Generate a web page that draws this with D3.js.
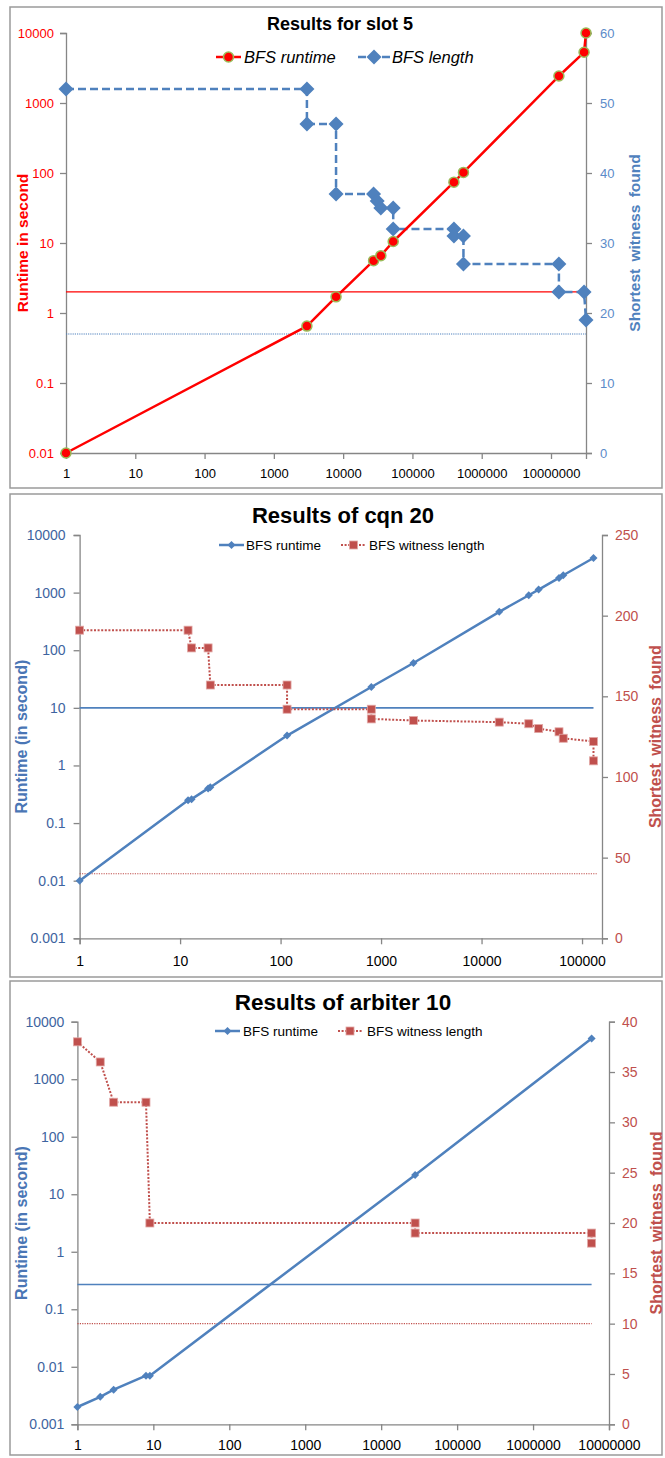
<!DOCTYPE html>
<html>
<head>
<meta charset="utf-8">
<script src="https://cdn.jsdelivr.net/npm/d3@7"></script>
<style>
  html, body { margin: 0; padding: 0; background: #fff; }
  svg { display: block; font-family: "Liberation Sans", Arial, sans-serif; }
</style>
</head>
<body>
<svg id="chart" width="665" height="1458"></svg>
<script>
// ---------- DATA ----------
// Panel 1: Results for slot 5
const slotRuntimeX = [1, 3000, 7900, 27500, 35000, 52800, 397000, 545000, 13000000, 30000000, 32000000];
const slotRuntimeY = [0.01, 0.65, 1.7, 5.6, 6.6, 10.5, 74, 102, 2430, 5300, 10000];
const slotLengthX = [1, 3000, 3000, 7900, 7900, 27500, 31000, 35000, 52800, 52800, 397000, 397000, 545000, 545000, 13000000, 13000000, 30000000, 32000000];
const slotLengthY = [52, 52, 47, 47, 37, 37, 36, 35, 35, 32, 32, 31, 31, 27, 27, 23, 23, 19];
const slotRuntimeRef = [2];
const slotLengthRef = [17];

// Panel 2: Results of cqn 20
const cqnRuntimeX = [1, 12, 13, 19, 20, 116, 800, 2100, 15000, 29500, 37000, 59000, 65000, 130000];
const cqnRuntimeY = [0.01, 0.25, 0.26, 0.4, 0.42, 3.3, 23, 60, 464, 900, 1130, 1800, 2000, 3990];
const cqnLengthX = [1, 12, 13, 19, 20, 116, 116, 800, 800, 2100, 15000, 29500, 37000, 59000, 65000, 130000, 130000];
const cqnLengthY = [191, 191, 180, 180, 157, 157, 142, 142, 136, 135, 134, 133, 130, 128, 124, 122, 110];
const cqnRuntimeRef = [10];
const cqnLengthRef = [40];

// Panel 3: Results of arbiter 10
const arbRuntimeX = [1, 2, 3, 8, 9, 28000, 5900000];
const arbRuntimeY = [0.002, 0.003, 0.004, 0.007, 0.007, 21.6, 5100];
const arbLengthX = [1, 2, 3, 8, 9, 28000, 28000, 5900000, 5900000];
const arbLengthY = [38, 36, 32, 32, 20, 20, 19, 19, 18];
const arbRuntimeRef = [0.27];
const arbLengthRef = [10];

// Tick values
const slotXTicks = [1, 10, 100, 1000, 10000, 100000, 1000000, 10000000];
const slotLeftTicks = [0.01, 0.1, 1, 10, 100, 1000, 10000];
const slotRightTicks = [0, 10, 20, 30, 40, 50, 60];
const cqnXTicks = [1, 10, 100, 1000, 10000, 100000];
const cqnLeftTicks = [0.001, 0.01, 0.1, 1, 10, 100, 1000, 10000];
const cqnRightTicks = [0, 50, 100, 150, 200, 250];
const arbXTicks = [1, 10, 100, 1000, 10000, 100000, 1000000, 10000000];
const arbLeftTicks = [0.001, 0.01, 0.1, 1, 10, 100, 1000, 10000];
const arbRightTicks = [0, 5, 10, 15, 20, 25, 30, 35, 40];

// ---------- DRAWING ----------
const svg = d3.select("#chart");
const AXIS = "#868686";

function diamondPath(r) { return `M0,${-r}L${r},0L0,${r}L${-r},0Z`; }

function drawPanel(c) {
  const g = svg.append("g");
  g.append("rect").attr("x", 10).attr("y", c.frame[0]).attr("width", 652).attr("height", c.frame[1] - c.frame[0])
    .attr("fill", "#fff").attr("stroke", "#9a9a9a").attr("stroke-width", 1.5);

  const x = d3.scaleLog().domain(c.xDomain).range([c.left, c.right]);
  const yL = d3.scaleLog().domain(c.yLDomain).range([c.bottom, c.top]);
  const yR = d3.scaleLinear().domain(c.yRDomain).range([c.bottom, c.top]);
  const fmt = d => String(d);

  const xAxis = d3.axisBottom(x).tickValues(c.xTicks).tickFormat(fmt).tickSize(6).tickPadding(c.xPad);
  const lAxis = d3.axisLeft(yL).tickValues(c.leftTicks).tickFormat(fmt).tickSize(6).tickPadding(c.lPad);
  const rAxis = d3.axisRight(yR).tickValues(c.rightTicks).tickFormat(fmt).tickSize(6).tickPadding(c.rPad);

  const gx = g.append("g").attr("transform", `translate(0,${c.bottom})`).call(xAxis);
  const gl = g.append("g").attr("transform", `translate(${c.left},0)`).call(lAxis);
  const gr = g.append("g").attr("transform", `translate(${c.right},0)`).call(rAxis);
  [gx, gl, gr].forEach(a => {
    a.select(".domain").attr("stroke", AXIS).attr("stroke-width", 1.3);
    a.selectAll(".tick line").attr("stroke", AXIS).attr("stroke-width", 1.3);
    a.selectAll("text").attr("font-family", '"Liberation Sans", Arial, sans-serif');
  });
  gx.selectAll("text").attr("fill", "#000").attr("font-size", c.tickSize);
  gl.selectAll("text").attr("fill", c.leftColor).attr("font-size", c.tickSize);
  gr.selectAll("text").attr("fill", c.rightColor).attr("font-size", c.tickSize);

  c.runtimeRef.forEach(v => {
    g.append("line").attr("x1", x(c.xDomain[0])).attr("x2", x(c.refEndX))
      .attr("y1", yL(v)).attr("y2", yL(v))
      .attr("stroke", c.runColor).attr("stroke-width", c.refRunWidth);
  });
  c.lengthRef.forEach(v => {
    g.append("line").attr("x1", x(c.xDomain[0])).attr("x2", x(c.refEndX2))
      .attr("y1", yR(v)).attr("y2", yR(v))
      .attr("stroke", c.lenColor).attr("stroke-width", c.refLenWidth).attr("stroke-dasharray", c.refLenDash);
  });

  const runData = c.runX.map((v, i) => [v, c.runY[i]]);
  const lenData = c.lenX.map((v, i) => [v, c.lenY[i]]);

  const runLine = d3.line().x(d => x(d[0])).y(d => yL(d[1]));
  const lenLine = d3.line().x(d => x(d[0])).y(d => yR(d[1]));

  function drawLen() {
    g.append("path").datum(lenData).attr("d", lenLine).attr("fill", "none")
      .attr("stroke", c.lenColor).attr("stroke-width", c.lenWidth).attr("stroke-dasharray", c.lenDash);
    if (c.lenMarker === "diamond") {
      g.selectAll(null).data(lenData).enter().append("path")
        .attr("transform", d => `translate(${x(d[0])},${yR(d[1])})`)
        .attr("d", diamondPath(c.lenMarkerSize)).attr("fill", c.lenColor);
    } else {
      const s = c.lenMarkerSize;
      g.selectAll(null).data(lenData).enter().append("rect")
        .attr("x", d => x(d[0]) - s / 2).attr("y", d => yR(d[1]) - s / 2)
        .attr("width", s).attr("height", s)
        .attr("fill", c.lenColor).attr("stroke", "#e2a8a6").attr("stroke-width", 0.8);
    }
  }
  function drawRun() {
    g.append("path").datum(runData).attr("d", runLine).attr("fill", "none")
      .attr("stroke", c.runColor).attr("stroke-width", c.runWidth).attr("stroke-linejoin", "round");
    if (c.runMarker === "circle") {
      g.selectAll(null).data(runData).enter().append("circle")
        .attr("cx", d => x(d[0])).attr("cy", d => yL(d[1])).attr("r", 5)
        .attr("fill", c.runColor).attr("stroke", "#9BBB59").attr("stroke-width", 1.5);
    } else {
      g.selectAll(null).data(runData).enter().append("path")
        .attr("transform", d => `translate(${x(d[0])},${yL(d[1])})`)
        .attr("d", diamondPath(c.runMarkerSize)).attr("fill", c.runColor);
    }
  }
  if (c.lenFirst) { drawLen(); drawRun(); } else { drawRun(); drawLen(); }

  g.append("text").attr("x", c.titleX).attr("y", c.titleY).attr("text-anchor", "middle")
    .attr("dominant-baseline", "central").attr("font-weight", "bold").attr("font-size", c.titleSize)
    .attr("fill", "#000").text(c.title);

  g.append("text").attr("transform", `translate(${c.lTitleX},${(c.top + c.bottom) / 2}) rotate(-90)`)
    .attr("text-anchor", "middle").attr("dominant-baseline", "central")
    .attr("font-weight", "bold").attr("font-size", c.axisTitleSize).attr("fill", c.lTitleColor).text(c.lTitle);
  g.append("text").attr("transform", `translate(${c.rTitleX},${(c.top + c.bottom) / 2}) rotate(-90)`)
    .attr("text-anchor", "middle").attr("dominant-baseline", "central").attr("word-spacing", 3)
    .attr("font-weight", "bold").attr("font-size", c.axisTitleSize).attr("fill", c.rTitleColor).text(c.rTitle);

  const L = c.legend;
  const lg = g.append("g");
  lg.append("line").attr("x1", L.run[0]).attr("x2", L.run[1]).attr("y1", L.y).attr("y2", L.y)
    .attr("stroke", c.runColor).attr("stroke-width", c.runWidth);
  const rm = (L.run[0] + L.run[1]) / 2;
  if (c.runMarker === "circle") {
    lg.append("circle").attr("cx", rm).attr("cy", L.y).attr("r", 5)
      .attr("fill", c.runColor).attr("stroke", "#9BBB59").attr("stroke-width", 1.5);
  } else {
    lg.append("path").attr("transform", `translate(${rm},${L.y})`).attr("d", diamondPath(c.runMarkerSize)).attr("fill", c.runColor);
  }
  lg.append("text").attr("x", L.run[2]).attr("y", L.y).attr("dominant-baseline", "central")
    .attr("font-size", L.size).attr("font-style", L.italic ? "italic" : "normal").attr("fill", "#000").text(c.runName);
  lg.append("line").attr("x1", L.len[0]).attr("x2", L.len[1]).attr("y1", L.y).attr("y2", L.y)
    .attr("stroke", c.lenColor).attr("stroke-width", c.lenWidth).attr("stroke-dasharray", c.lenDash);
  const lm = (L.len[0] + L.len[1]) / 2;
  if (c.lenMarker === "diamond") {
    lg.append("path").attr("transform", `translate(${lm},${L.y})`).attr("d", diamondPath(c.lenMarkerSize)).attr("fill", c.lenColor);
  } else {
    const s = c.lenMarkerSize;
    lg.append("rect").attr("x", lm - s / 2).attr("y", L.y - s / 2).attr("width", s).attr("height", s)
      .attr("fill", c.lenColor).attr("stroke", "#e2a8a6").attr("stroke-width", 0.8);
  }
  lg.append("text").attr("x", L.len[2]).attr("y", L.y).attr("dominant-baseline", "central")
    .attr("font-size", L.size).attr("font-style", L.italic ? "italic" : "normal").attr("fill", "#000").text(c.lenName);
}

const BLUE = "#4F81BD", DRED = "#C0504D";

drawPanel({
  frame: [7, 488],
  left: 66, right: 586, top: 33, bottom: 453,
  xDomain: [1, 32000000], yLDomain: [0.01, 10000], yRDomain: [0, 60],
  xTicks: slotXTicks, leftTicks: slotLeftTicks, rightTicks: slotRightTicks,
  xPad: 10, lPad: 6, rPad: 8, tickSize: 13,
  leftColor: "#FF0000", rightColor: "#5B8BC9",
  runX: slotRuntimeX, runY: slotRuntimeY, lenX: slotLengthX, lenY: slotLengthY,
  runColor: "#FF0000", runWidth: 2.5, runMarker: "circle",
  lenColor: BLUE, lenWidth: 2.5, lenDash: "8,4", lenMarker: "diamond", lenMarkerSize: 7.5,
  lenFirst: true,
  runtimeRef: slotRuntimeRef, lengthRef: slotLengthRef, refEndX: 32000000, refEndX2: 32000000,
  refRunWidth: 1.3, refLenWidth: 1.2, refLenDash: "1.2,1",
  title: "Results for slot 5", titleX: 340, titleY: 24, titleSize: 18,
  lTitle: "Runtime in second", lTitleX: 22, lTitleColor: "#FF0000",
  rTitle: "Shortest witness found", rTitleX: 634, rTitleColor: "#4F81BD",
  axisTitleSize: 15.5,
  runName: "BFS runtime", lenName: "BFS length",
  legend: { y: 57, size: 16.5, italic: true, run: [216, 241, 244], len: [358, 390, 392] }
});

drawPanel({
  frame: [494, 977],
  left: 79.6, right: 602, top: 535, bottom: 938.3,
  xDomain: [1, 158000], yLDomain: [0.001, 10000], yRDomain: [0, 250],
  xTicks: cqnXTicks, leftTicks: cqnLeftTicks, rightTicks: cqnRightTicks,
  xPad: 12, lPad: 8, rPad: 7, tickSize: 14,
  leftColor: "#3E64A0", rightColor: DRED,
  runX: cqnRuntimeX, runY: cqnRuntimeY, lenX: cqnLengthX, lenY: cqnLengthY,
  runColor: BLUE, runWidth: 2.5, runMarker: "diamond", runMarkerSize: 4,
  lenColor: DRED, lenWidth: 2, lenDash: "2,1.6", lenMarker: "square", lenMarkerSize: 8,
  lenFirst: false,
  runtimeRef: cqnRuntimeRef, lengthRef: cqnLengthRef, refEndX: 130000, refEndX2: 140000,
  refRunWidth: 1.6, refLenWidth: 1.2, refLenDash: "1.2,1.2",
  title: "Results of cqn 20", titleX: 343, titleY: 515, titleSize: 22,
  lTitle: "Runtime (in second)", lTitleX: 21, lTitleColor: "#4A76B5",
  rTitle: "Shortest witness found", rTitleX: 655, rTitleColor: DRED,
  axisTitleSize: 16,
  runName: "BFS runtime", lenName: "BFS witness length",
  legend: { y: 545, size: 13.5, italic: false, run: [219, 244, 246], len: [341, 366, 369] }
});

drawPanel({
  frame: [981, 1455],
  left: 77.4, right: 609, top: 1021.7, bottom: 1424.3,
  xDomain: [1, 10000000], yLDomain: [0.001, 10000], yRDomain: [0, 40],
  xTicks: arbXTicks, leftTicks: arbLeftTicks, rightTicks: arbRightTicks,
  xPad: 10, lPad: 7, rPad: 7, tickSize: 14,
  leftColor: "#3E64A0", rightColor: DRED,
  runX: arbRuntimeX, runY: arbRuntimeY, lenX: arbLengthX, lenY: arbLengthY,
  runColor: BLUE, runWidth: 2.5, runMarker: "diamond", runMarkerSize: 4,
  lenColor: DRED, lenWidth: 2, lenDash: "2,1.6", lenMarker: "square", lenMarkerSize: 8,
  lenFirst: false,
  runtimeRef: arbRuntimeRef, lengthRef: arbLengthRef, refEndX: 5900000, refEndX2: 5900000,
  refRunWidth: 1.6, refLenWidth: 1.2, refLenDash: "1.2,1.2",
  title: "Results of arbiter 10", titleX: 343, titleY: 1002, titleSize: 22.5,
  lTitle: "Runtime (in second)", lTitleX: 21, lTitleColor: "#4A76B5",
  rTitle: "Shortest witness found", rTitleX: 656, rTitleColor: DRED,
  axisTitleSize: 16,
  runName: "BFS runtime", lenName: "BFS witness length",
  legend: { y: 1031, size: 13.5, italic: false, run: [215, 240, 243], len: [338, 362, 367] }
});
</script>
</body>
</html>
